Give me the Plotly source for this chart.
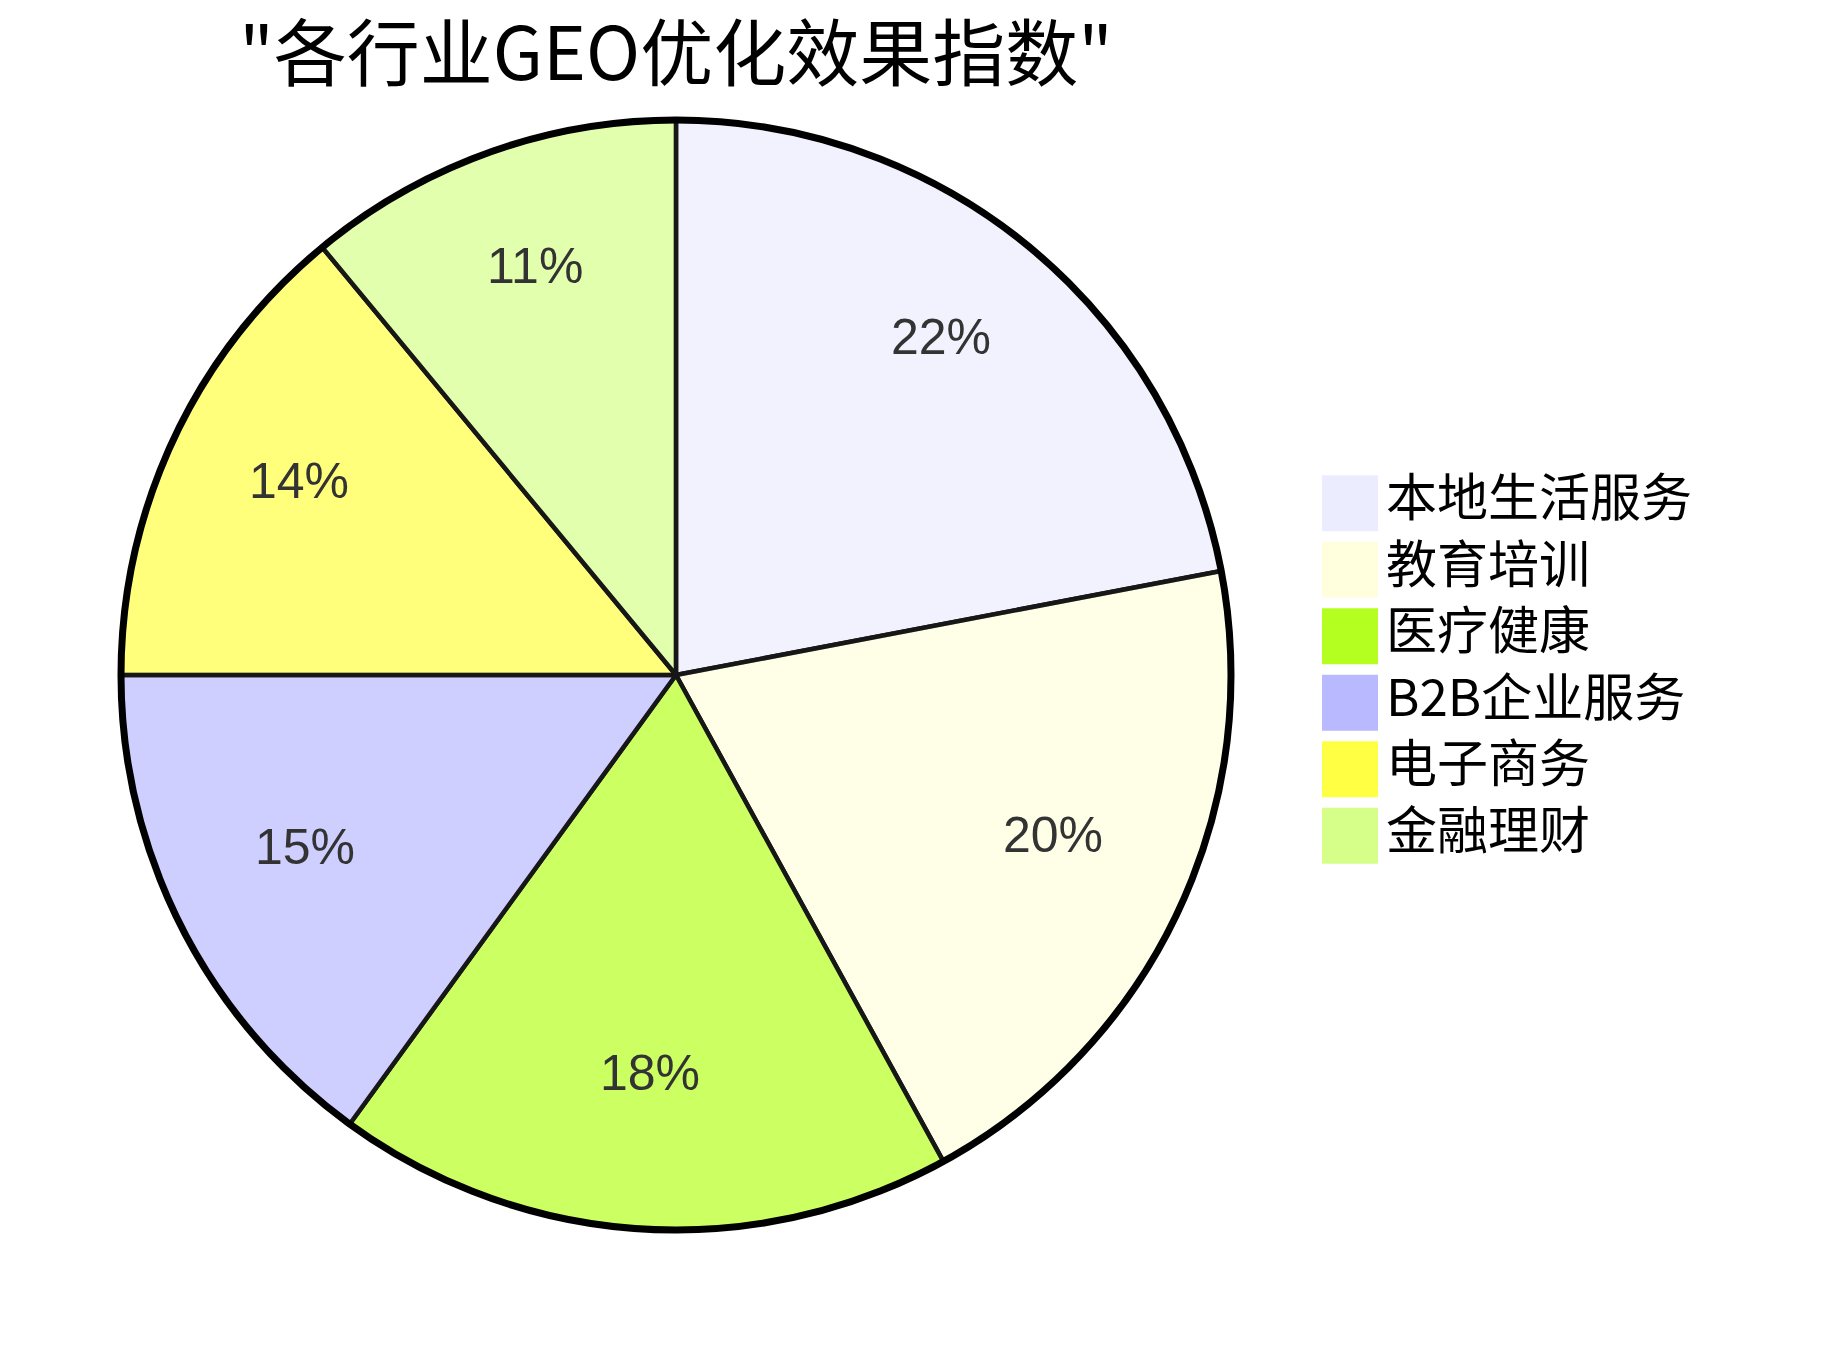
import numpy as np
import plotly.graph_objects as go

# 各行业GEO优化效果指数
labels = ["本地生活服务", "教育培训", "医疗健康", "B2B企业服务", "电子商务", "金融理财"]
values = [22, 20, 18, 15, 14, 11]
colors = ["#ECECFF", "#FFFFDE", "#B5FF20", "#B9B9FF", "#FFFF44", "#D6FF8A"]
title = '"各行业GEO优化效果指数"'

W, H = 1842, 1350
cx, cy, R = 668, 667, 555      # pie centre / radius in px
pie_x = [(cx - R) / W, (cx + R) / W]
pie_y = [(H - cy - R) / H, (H - cy + R) / H]


def rgba(hx, a=0.7):
    hx = hx.lstrip("#")
    r, g, b = int(hx[0:2], 16), int(hx[2:4], 16), int(hx[4:6], 16)
    return f"rgba({r},{g},{b},{a})"


fig = go.Figure()

fig.add_trace(go.Pie(
    labels=labels, values=values, sort=False, direction="clockwise", rotation=0,
    marker=dict(colors=[rgba(c) for c in colors], line=dict(color="#171717", width=4.5)),
    textinfo="none", hoverinfo="label+percent", showlegend=False,
    domain=dict(x=pie_x, y=pie_y),
))
# outer ring
fig.add_trace(go.Pie(
    values=[sum(values)], labels=[""], sort=False,
    marker=dict(colors=["rgba(0,0,0,0)"], line=dict(color="black", width=7)),
    textinfo="none", hoverinfo="skip", showlegend=False,
    domain=dict(x=pie_x, y=pie_y),
))

# legend drawn as squares + labels
fig.add_trace(go.Scatter(
    x=[0] * len(labels), y=list(range(len(labels))),
    mode="markers+text", text=labels, textposition="middle right",
    textfont=dict(family="Noto Sans CJK SC", size=51, color="black"),
    marker=dict(symbol="square", size=56, color=colors, line=dict(width=0)),
    hoverinfo="skip", showlegend=False, xaxis="x2", yaxis="y2", cliponaxis=False,
))

# percentage labels at 0.75 R along each slice's bisector
pct = np.array(values) / np.sum(values)
mid = (np.cumsum(pct) - pct / 2) * 2 * np.pi
lx = 0.75 * np.sin(mid)
ly = 0.75 * np.cos(mid)
annotations = [
    dict(x=x, y=y, xref="x3", yref="y3", text=f"{p * 100:.0f}%", showarrow=False,
         xanchor="center", yanchor="middle", yshift=17,
         font=dict(family="Liberation Sans Narrow, Liberation Sans, sans-serif", size=50, color="#333333"))
    for x, y, p in zip(lx, ly, pct)
]

hidden = dict(visible=False, showgrid=False, zeroline=False, fixedrange=True)
fig.update_layout(
    width=W, height=H,
    margin=dict(l=0, r=0, t=0, b=0),
    paper_bgcolor="white", plot_bgcolor="rgba(0,0,0,0)",
    title=dict(text=title, x=cx / W, xanchor="center", y=1 - 46 / H, yanchor="middle",
               font=dict(family="Noto Sans CJK SC", size=73, color="black")),
    xaxis=dict(hidden, domain=[0, 0.01]), yaxis=dict(hidden, domain=[0, 0.01]),
    xaxis2=dict(hidden, domain=[1286 / W, 1], range=[-56, 500], anchor="y2"),
    yaxis2=dict(hidden, domain=[(H - 861) / H, (H - 462) / H], range=[5.5, -0.5], anchor="x2"),
    xaxis3=dict(hidden, domain=pie_x, range=[-1, 1], anchor="y3"),
    yaxis3=dict(hidden, domain=pie_y, range=[-1, 1], anchor="x3"),
    annotations=annotations,
    showlegend=False,
)

fig.write_html("out.html")
